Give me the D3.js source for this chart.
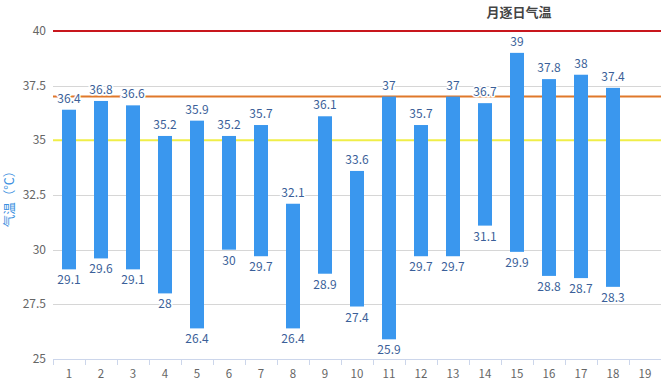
<!DOCTYPE html>
<html>
<head>
<meta charset="utf-8">
<script src="https://cdn.jsdelivr.net/npm/d3@7/dist/d3.min.js"></script>
<style>
  html, body { margin: 0; padding: 0; background: #fff; }
  svg { display: block; font-family: "Microsoft YaHei", "Noto Sans CJK SC", "DejaVu Sans", sans-serif; }
</style>
</head>
<body>
<svg id="chart" width="661" height="382"></svg>
<script>
const days = ["1","2","3","4","5","6","7","8","9","10","11","12","13","14","15","16","17","18","19"];
const highs = [36.4, 36.8, 36.6, 35.2, 35.9, 35.2, 35.7, 32.1, 36.1, 33.6, 37, 35.7, 37, 36.7, 39, 37.8, 38, 37.4];
const lows  = [29.1, 29.6, 29.1, 28, 26.4, 30, 29.7, 26.4, 28.9, 27.4, 25.9, 29.7, 29.7, 31.1, 29.9, 28.8, 28.7, 28.3];
const yTicks = [25, 27.5, 30, 32.5, 35, 37.5, 40];
const refLines = [
  { value: 40, color: "#c8161d" },
  { value: 37, color: "#e0782a" },
  { value: 35, color: "#f0ee48" }
];
const title = "月逐日气温";
const yTitle = "气温（℃）";

(function () {
const svg = d3.select("#chart");
const mLeft = 53, mRight = 661, mTop = 31, mBottom = 359;

const x = d3.scaleBand().domain(days).range([mLeft, mRight]).padding(0);
const y = d3.scaleLinear().domain([25, 40]).range([mBottom, mTop]);

// gridlines
svg.append("g").selectAll("line").data(yTicks.filter(d => d !== 25)).join("line")
  .attr("x1", mLeft).attr("x2", mRight)
  .attr("y1", d => Math.round(y(d)) + 0.5).attr("y2", d => Math.round(y(d)) + 0.5)
  .attr("stroke", "#d6d6d6").attr("stroke-width", 1);

// y tick labels
svg.append("g").selectAll("text").data(yTicks).join("text")
  .attr("x", 46).attr("y", d => y(d) + 4)
  .attr("text-anchor", "end")
  .attr("font-size", 12).attr("fill", "#666")
  .text(d => d);

// reference lines
svg.append("g").selectAll("line").data(refLines).join("line")
  .attr("x1", mLeft).attr("x2", mRight)
  .attr("y1", d => y(d.value)).attr("y2", d => y(d.value))
  .attr("stroke", d => d.color).attr("stroke-width", 2);

// x axis
const xAxis = svg.append("g");
xAxis.append("line").attr("x1", mLeft).attr("x2", mRight)
  .attr("y1", mBottom + 0.5).attr("y2", mBottom + 0.5)
  .attr("stroke", "#ccd6eb");
xAxis.selectAll("line.tick").data(days).join("line").attr("class", "tick")
  .attr("x1", d => Math.round(x(d)) + 0.5).attr("x2", d => Math.round(x(d)) + 0.5)
  .attr("y1", mBottom).attr("y2", mBottom + 6)
  .attr("stroke", "#ccd6eb");
xAxis.selectAll("text").data(days).join("text")
  .attr("x", d => x(d) + x.bandwidth() / 2).attr("y", mBottom + 19)
  .attr("text-anchor", "middle")
  .attr("font-size", 11.5).attr("fill", "#666")
  .text(d => d);

// bars
const data = highs.map((h, i) => ({ day: days[i], high: h, low: lows[i] }));
const bw = 14;
svg.append("g").selectAll("rect").data(data).join("rect")
  .attr("x", d => x(d.day) + x.bandwidth() / 2 - bw / 2)
  .attr("width", bw)
  .attr("y", d => y(d.high))
  .attr("height", d => y(d.low) - y(d.high))
  .attr("fill", "#3a97ee");

// data labels
const labels = svg.append("g")
  .attr("font-size", 12).attr("fill", "#3b5f99")
  .attr("text-anchor", "middle")
  .attr("stroke", "#fff").attr("stroke-width", 3).attr("stroke-linejoin", "round")
  .style("paint-order", "stroke");
labels.selectAll("text.hi").data(data).join("text").attr("class", "hi")
  .attr("x", d => x(d.day) + x.bandwidth() / 2)
  .attr("y", d => y(d.high) - 7)
  .text(d => d.high);
labels.selectAll("text.lo").data(data).join("text").attr("class", "lo")
  .attr("x", d => x(d.day) + x.bandwidth() / 2)
  .attr("y", d => y(d.low) + 15)
  .text(d => d.low);

// title
svg.append("text").attr("x", 519).attr("y", 17)
  .attr("text-anchor", "middle").attr("font-size", 13).attr("font-weight", "bold")
  .attr("fill", "#444").text(title);

// y-axis title
svg.append("text")
  .attr("transform", "translate(14,196) rotate(-90)")
  .attr("text-anchor", "middle").attr("font-size", 12.5).attr("fill", "#3a8fe0")
  .text(yTitle);
})();
</script>
</body>
</html>
